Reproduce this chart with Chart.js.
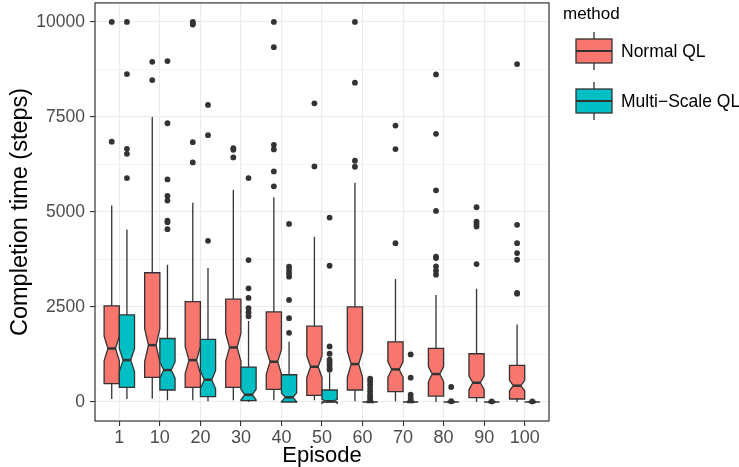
<!DOCTYPE html>
<html>
<head>
<meta charset="utf-8">
<script src="https://cdn.jsdelivr.net/npm/chart.js@4.4.1/dist/chart.umd.min.js"></script>
<style>
  html, body { margin: 0; padding: 0; background: #fff; }
</style>
</head>
<body>
<canvas id="chart" width="739" height="467"></canvas>
<script>
var episodes = ["1", "10", "20", "30", "40", "50", "60", "70", "80", "90", "100"];
var methods = ["Normal QL", "Multi\u2212Scale QL"];
var fills = ["#F8766D", "#00BFC4"];
var runs = 100; // runs per box, used for the notch

// Normal QL
var normalLow  = [79, 87, 44, 44, 44, 44, 17, 17, 0, 0, 0];
var normalQ1   = [481, 647, 385, 385, 332, 175, 315, 271, 157, 114, 79];
var normalMed  = [1409, 1496, 1102, 1435, 1059, 927, 997, 857, 735, 507, 429];
var normalQ3   = [2529, 3400, 2642, 2704, 2371, 1995, 2502, 1584, 1409, 1269, 962];
var normalHigh = [5167, 7500, 5245, 5586, 5385, 4345, 5770, 3235, 2816, 2982, 2038];
var normalOut = [
  [10000, 6850],
  [8951, 8470],
  [10000, 9960, 9930, 6836, 6303],
  [6679, 6635, 6434],
  [10000, 9336, 6766, 6644, 6067, 5674],
  [7859, 6198],
  [10000, 8400, 6347, 6189],
  [7273, 6653, 4179],
  [8619, 7055, 5569, 5027, 3821, 3786, 3567, 3454, 3349],
  [5123, 4747, 4686, 4616, 3628],
  [8890, 4660, 4179, 3917, 3742, 2868, 2851]
];

// Multi-Scale QL
var multiLow  = [79, 44, 17, 0, 0, 0, 0, 0, 0, 0, 0];
var multiQ1   = [385, 315, 140, 35, 0, 0, 0, 0, 0, 0, 0];
var multiMed  = [1102, 840, 586, 192, 122, 20, 0, 0, 0, 0, 0];
var multiQ3   = [2292, 1671, 1645, 919, 717, 315, 0, 0, 0, 0, 0];
var multiHigh = [4540, 3611, 3524, 2130, 1584, 770, 0, 0, 0, 0, 0];
var multiOut = [
  [10000, 8628, 6661, 6530, 5892],
  [8969, 7334, 5857, 5420, 5300, 4773, 4730, 4546],
  [7815, 7020, 4240],
  [5892, 3733, 2990, 2737, 2466, 2361, 2256],
  [4686, 3558, 3471, 3384, 3296, 2685, 2204, 1819],
  [4852, 3585, 1461, 1269, 1111, 1050, 980, 900, 850],
  [612, 542, 455, 367, 280, 192, 131, 61],
  [1251, 639, 192, 105, 44],
  [394, 20],
  [15],
  [15]
];

var yMajor = [0, 2500, 5000, 7500, 10000];
var yTicks = [0, 1250, 2500, 3750, 5000, 6250, 7500, 8750, 10000];

function makeBoxes(low, q1, med, q3, high, out) {
  return episodes.map(function (e, i) {
    return { low: low[i], q1: q1[i], med: med[i], q3: q3[i], high: high[i], out: out[i] };
  });
}
var boxes = [
  makeBoxes(normalLow, normalQ1, normalMed, normalQ3, normalHigh, normalOut),
  makeBoxes(multiLow, multiQ1, multiMed, multiQ3, multiHigh, multiOut)
];
var dodge = [-0.1875, 0.1875];
var half = 0.1875;
var ink = "#333333";

Chart.defaults.font.family = "'Liberation Sans', Arial, Helvetica, sans-serif";

var boxPlugin = {
  id: "boxes",
  beforeDatasetsDraw: function (chart) {
    var ctx = chart.ctx, xs = chart.scales.x, ys = chart.scales.y;
    ctx.save();
    boxes.forEach(function (set, m) {
      set.forEach(function (b, i) {
        var c = i + 1 + dodge[m];
        var x0 = xs.getPixelForValue(c - half);
        var x1 = xs.getPixelForValue(c + half);
        var xc = xs.getPixelForValue(c);
        var indent = (x1 - x0) * 0.25;
        var notch = 1.58 * (b.q3 - b.q1) / Math.sqrt(runs);
        var yq3 = ys.getPixelForValue(b.q3), yq1 = ys.getPixelForValue(b.q1);
        var ym = ys.getPixelForValue(b.med);
        var ynu = ys.getPixelForValue(b.med + notch), ynl = ys.getPixelForValue(b.med - notch);

        ctx.strokeStyle = ink;
        ctx.lineWidth = 1.3;
        ctx.beginPath();
        ctx.moveTo(xc, yq3); ctx.lineTo(xc, ys.getPixelForValue(b.high));
        ctx.moveTo(xc, yq1); ctx.lineTo(xc, ys.getPixelForValue(b.low));
        ctx.stroke();

        ctx.beginPath();
        ctx.moveTo(x0, yq3);
        ctx.lineTo(x0, ynu);
        ctx.lineTo(x0 + indent, ym);
        ctx.lineTo(x0, ynl);
        ctx.lineTo(x0, yq1);
        ctx.lineTo(x1, yq1);
        ctx.lineTo(x1, ynl);
        ctx.lineTo(x1 - indent, ym);
        ctx.lineTo(x1, ynu);
        ctx.lineTo(x1, yq3);
        ctx.closePath();
        ctx.fillStyle = fills[m];
        ctx.fill();
        ctx.stroke();

        ctx.lineWidth = 2.5;
        ctx.beginPath();
        ctx.moveTo(x0 + indent, ym);
        ctx.lineTo(x1 - indent, ym);
        ctx.stroke();
      });
    });
    ctx.restore();
  },
  afterDraw: function (chart) {
    var ctx = chart.ctx, a = chart.chartArea;
    ctx.save();
    ctx.strokeStyle = ink;
    ctx.lineWidth = 1.2;
    ctx.strokeRect(a.left, a.top, a.right - a.left, a.bottom - a.top);

    // legend
    ctx.fillStyle = "#000";
    ctx.font = "17px 'Liberation Sans', Arial, sans-serif";
    ctx.textBaseline = "middle";
    ctx.textAlign = "left";
    ctx.fillText("method", 563, 14);
    methods.forEach(function (name, m) {
      var cy = 51 + m * 50;
      var kx = 576, kw = 36, xc = kx + kw / 2;
      ctx.strokeStyle = ink;
      ctx.lineWidth = 1.3;
      ctx.beginPath();
      ctx.moveTo(xc, cy - 19); ctx.lineTo(xc, cy - 12);
      ctx.moveTo(xc, cy + 12); ctx.lineTo(xc, cy + 19);
      ctx.stroke();
      ctx.fillStyle = fills[m];
      ctx.fillRect(kx, cy - 12, kw, 24);
      ctx.strokeRect(kx, cy - 12, kw, 24);
      ctx.lineWidth = 1.8;
      ctx.beginPath();
      ctx.moveTo(kx, cy); ctx.lineTo(kx + kw, cy);
      ctx.stroke();
      ctx.fillStyle = "#000";
      ctx.font = "17.5px 'Liberation Sans', Arial, sans-serif";
      ctx.fillText(name, 621, cy + 1);
    });
    ctx.restore();
  }
};

function outlierData(m) {
  var pts = [];
  boxes[m].forEach(function (b, i) {
    b.out.forEach(function (v) { pts.push({ x: i + 1 + dodge[m], y: v }); });
  });
  return pts;
}

new Chart(document.getElementById("chart"), {
  type: "scatter",
  data: {
    datasets: methods.map(function (name, m) {
      return {
        label: name,
        data: outlierData(m),
        pointRadius: 2.9,
        pointHoverRadius: 2.9,
        backgroundColor: ink,
        borderWidth: 0
      };
    })
  },
  options: {
    responsive: false,
    animation: false,
    devicePixelRatio: 1,
    layout: { padding: { left: 0, top: 2, right: 190, bottom: 0 } },
    plugins: { legend: { display: false }, tooltip: { enabled: false } },
    scales: {
      x: {
        type: "linear",
        min: 0.4,
        max: 11.6,
        afterBuildTicks: function (scale) {
          scale.ticks = episodes.map(function (e, i) { return { value: i + 1 }; });
        },
        afterFit: function (scale) {
          scale.height = 46;
          scale.paddingLeft = 0;
          scale.paddingRight = 0;
        },
        border: { display: false },
        grid: { color: "#ebebeb", lineWidth: 1.1, tickColor: ink, tickLength: 5 },
        ticks: {
          autoSkip: false,
          maxRotation: 0,
          padding: 1,
          color: "#4d4d4d",
          font: { size: 18 },
          callback: function (v, i) { return episodes[i]; }
        },
        title: {
          display: true,
          text: "Episode",
          color: "#000",
          font: { size: 22, lineHeight: 1 },
          padding: { top: 1, bottom: 0 }
        }
      },
      y: {
        type: "linear",
        min: -500,
        max: 10500,
        afterBuildTicks: function (scale) {
          scale.ticks = yTicks.map(function (v) { return { value: v }; });
        },
        afterFit: function (scale) {
          scale.width = 95;
          scale.paddingTop = 0;
          scale.paddingBottom = 0;
        },
        border: { display: false },
        grid: {
          color: "#ebebeb",
          lineWidth: function (c) { return c.tick && yMajor.indexOf(c.tick.value) >= 0 ? 1.1 : 0.55; },
          tickColor: function (c) { return c.tick && yMajor.indexOf(c.tick.value) >= 0 ? ink : "rgba(0,0,0,0)"; },
          tickLength: 5
        },
        ticks: {
          padding: 5,
          color: "#4d4d4d",
          font: { size: 17.5 },
          callback: function (v) { return yMajor.indexOf(v) >= 0 ? String(v) : ""; }
        },
        title: {
          display: true,
          text: "Completion time (steps)",
          color: "#000",
          font: { size: 23.5, lineHeight: 1 },
          padding: { top: 9, bottom: 0 }
        }
      }
    }
  },
  plugins: [boxPlugin]
});
</script>
</body>
</html>
